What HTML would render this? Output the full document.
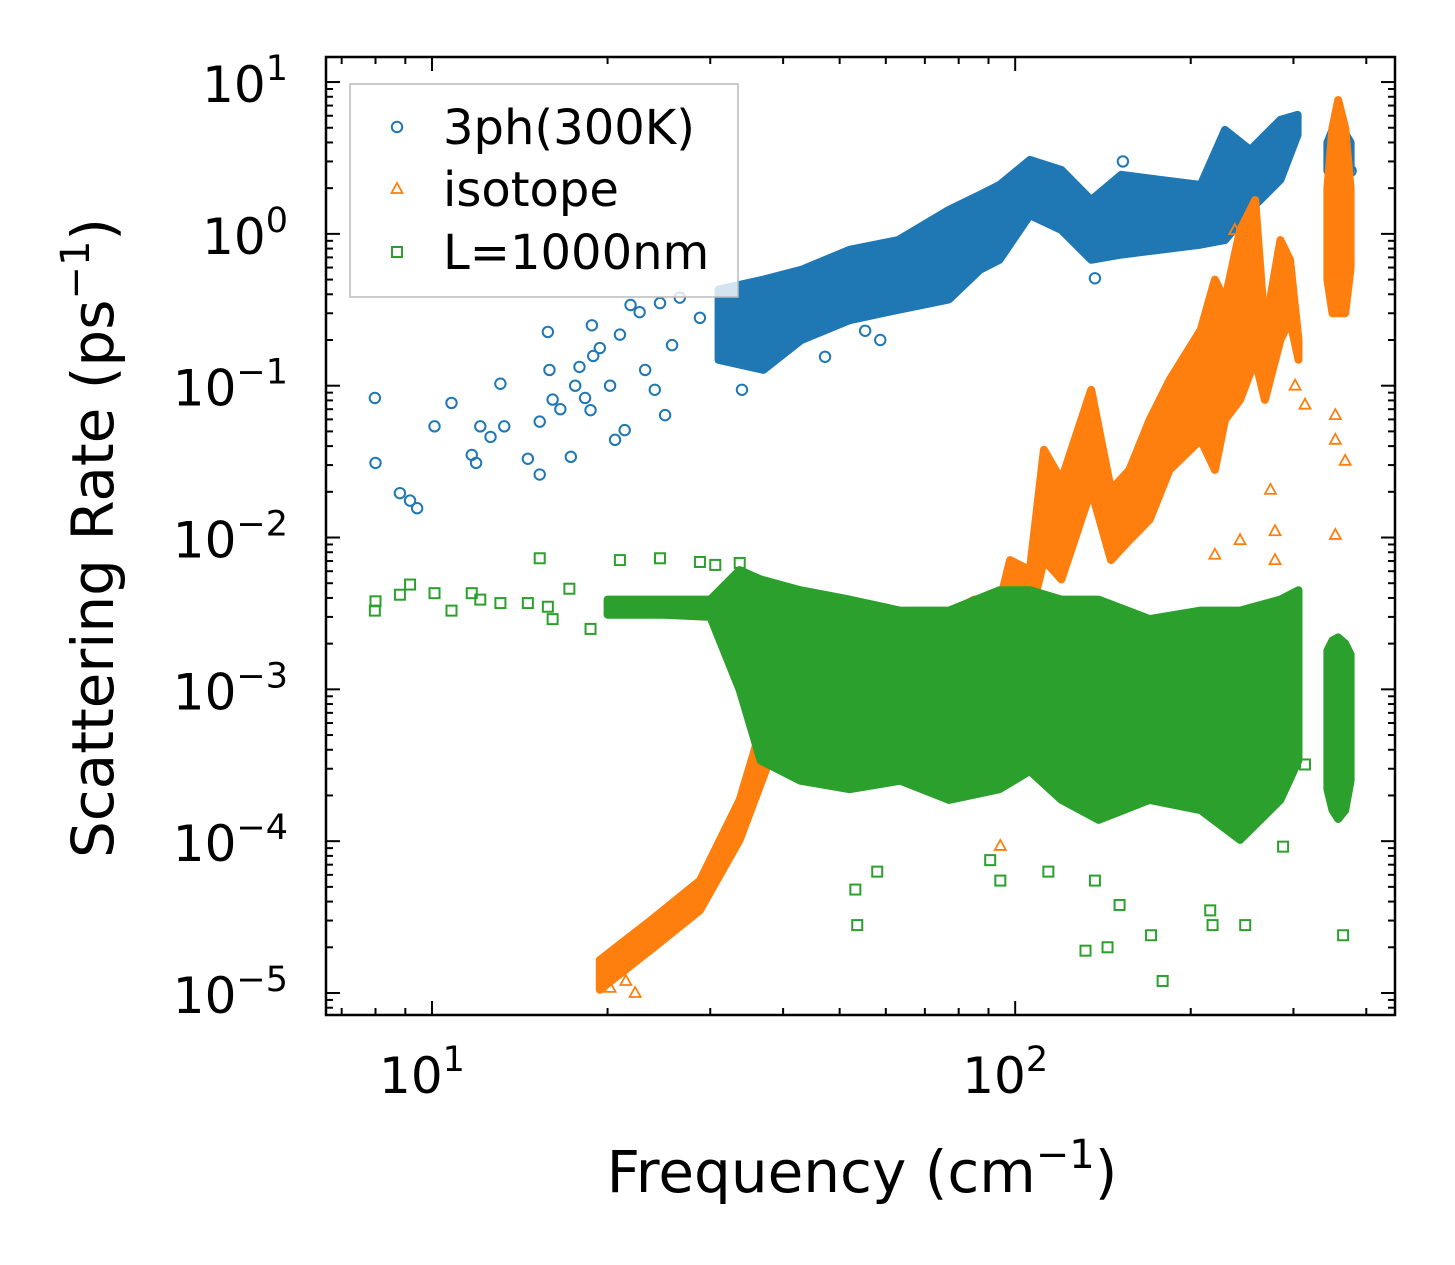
<!DOCTYPE html>
<html><head><meta charset="utf-8">
<style>
html,body{margin:0;padding:0;background:#fff;}
svg{display:block;font-family:"DejaVu Sans","Liberation Sans",sans-serif;}
</style></head>
<body>
<svg id="chart" width="1455" height="1265" viewBox="0 0 1455 1265" xmlns="http://www.w3.org/2000/svg">
<rect x="0" y="0" width="1455" height="1265" fill="#fff"/>
<g id="marks"></g>
<g id="axes"></g>
</svg>
<script>
// ---- 3ph (300K) series ----
const blueBandFreq=[31,37,43,52,63,77,87,94,106,120,135,152,177,208,229,253,285,305];
const blueBandHi=[0.43,0.50,0.58,0.785,0.91,1.44,1.81,2.10,3.07,2.64,1.67,2.45,2.27,2.10,4.84,3.57,5.64,6.08];
const blueBandLo=[0.148,0.127,0.20,0.27,0.316,0.37,0.58,0.675,1.33,1.06,0.675,0.73,0.785,0.85,0.91,1.44,2.27,4.49];
const blueClusterFreq=[343,350,358,368,376];
const blueClusterHi=[4.0,4.84,4.5,4.6,4.0];
const blueClusterLo=[2.6,2.27,2.4,2.3,2.6];
const blueFreq=[7.98,8.0,8.81,9.17,9.43,10.1,10.8,11.7,11.9,12.1,12.6,13.1,13.3,14.6,15.3,15.3,15.8,15.9,16.1,16.6,17.3,17.6,17.9,18.3,18.7,18.8,18.9,19.4,20.2,20.6,21.0,21.4,21.9,22.7,23.2,24.1,24.6,25.1,25.8,26.6,28.8,34.0,47.2,55.3,58.7,137,153,376];
const blueVal=[0.083,0.031,0.0196,0.0175,0.0156,0.054,0.077,0.035,0.031,0.054,0.046,0.103,0.054,0.033,0.026,0.058,0.226,0.127,0.081,0.07,0.034,0.10,0.133,0.083,0.069,0.25,0.157,0.177,0.10,0.044,0.217,0.051,0.34,0.305,0.127,0.094,0.35,0.064,0.185,0.38,0.28,0.094,0.155,0.23,0.2,0.51,3.0,2.6];
// ---- isotope series ----
const orangeBandFreq=[19.4,23.7,28.8,33.7,37.9,44,55,70,85,94.3,98,106,112,120,135,146,157,170,184,208,220,229,243,258,268,285,296,306];
const orangeBandHi=[1.65e-5,3.0e-5,5.5e-5,1.87e-4,8.5e-4,1.2e-3,1.6e-3,2.6e-3,3.9e-3,3.9e-3,7.1e-3,6.1e-3,0.0378,0.0239,0.094,0.0206,0.0279,0.0595,0.109,0.233,0.50,0.367,1.06,1.67,0.233,0.91,0.675,0.20];
const orangeBandLo=[1.05e-5,1.92e-5,3.5e-5,1.02e-4,3.4e-4,4.0e-4,5.0e-4,7.0e-4,8.5e-4,8.5e-4,2.1e-3,2.9e-3,7.1e-3,5.3e-3,0.0206,7.1e-3,9.6e-3,0.0131,0.0279,0.044,0.0279,0.0595,0.0806,0.148,0.0806,0.20,0.271,0.148];
const orangeSpikeFreq=[343,350,358,368,376];
const orangeSpikeHi=[2.0,5.0,7.6,5.0,2.0];
const orangeSpikeLo=[0.5,0.3,0.3,0.3,0.6];
const orangeFreq=[302,314,354,354,368,354,274,243,220,279,279,94.3,140,238,20.2,21.5,22.3];
const orangeVal=[0.1,0.075,0.064,0.044,0.032,0.0104,0.0206,9.6e-3,7.7e-3,0.011,7.1e-3,9.3e-5,0.0197,1.06,1.08e-5,1.2e-5,1.0e-5];
// ---- L=1000nm series ----
const greenBandFreq=[20,25,30,33.7,36.6,42.8,52,63.5,77,94,106,120,139,170,208,243,285,306];
const greenBandHi=[3.9e-3,3.9e-3,3.9e-3,6.1e-3,5.3e-3,4.5e-3,3.9e-3,3.3e-3,3.3e-3,4.5e-3,4.5e-3,3.9e-3,3.9e-3,2.9e-3,3.3e-3,3.3e-3,3.9e-3,4.5e-3];
const greenBandLo=[3.1e-3,3.1e-3,3.0e-3,9.9e-4,3.4e-4,2.5e-4,2.2e-4,2.5e-4,1.87e-4,2.2e-4,2.9e-4,1.87e-4,1.38e-4,1.87e-4,1.6e-4,1.02e-4,1.87e-4,3.4e-4];
const greenClusterFreq=[343,350,358,368,376];
const greenClusterHi=[1.8e-3,2.1e-3,2.2e-3,2.0e-3,1.7e-3];
const greenClusterLo=[2.2e-4,1.6e-4,1.4e-4,1.6e-4,2.5e-4];
const greenFreq=[7.98,8.0,8.81,9.17,10.1,10.8,11.7,12.1,13.1,14.6,15.3,15.8,16.1,17.2,18.7,21.0,24.6,28.8,30.6,33.7,53.2,53.6,58,90.6,94.3,114,132,144,171,179,151,216,218,248,288,365,314,137];
const greenVal=[3.3e-3,3.8e-3,4.2e-3,4.9e-3,4.3e-3,3.3e-3,4.3e-3,3.9e-3,3.7e-3,3.7e-3,7.3e-3,3.5e-3,2.9e-3,4.6e-3,2.5e-3,7.1e-3,7.3e-3,6.9e-3,6.6e-3,6.8e-3,4.8e-5,2.8e-5,6.3e-5,7.5e-5,5.5e-5,6.3e-5,1.9e-5,2.0e-5,2.4e-5,1.2e-5,3.8e-5,3.5e-5,2.8e-5,2.8e-5,9.2e-5,2.4e-5,3.2e-4,5.5e-5];
// ---- ticks ----
const xTickVals=[10,100];
const xTickExp=["1","2"];
const yTickVals=[10,1,0.1,0.01,0.001,1e-4,1e-5];
const yTickExp=["1","0","\u22121","\u22122","\u22123","\u22124","\u22125"];

const NS="http://www.w3.org/2000/svg";
const L=326,R=1395,T=57,B=1015;
const xMinL=Math.log10(6.58),xMaxL=Math.log10(448);
const yMinL=-5.145,yMaxL=1.165;
function X(f){return L+(Math.log10(f)-xMinL)/(xMaxL-xMinL)*(R-L);}
function Y(v){return B-(Math.log10(v)-yMinL)/(yMaxL-yMinL)*(B-T);}
const marks=document.getElementById('marks');
const axes=document.getElementById('axes');
function mk(tag,attrs,parent){const e=document.createElementNS(NS,tag);for(const k in attrs)e.setAttribute(k,attrs[k]);(parent||marks).appendChild(e);return e;}
const C={b:'#1f77b4',o:'#ff7f0e',g:'#2ca02c'};

function band(fr,hi,lo,col,name){
  let pts=[];
  for(let i=0;i<fr.length;i++)pts.push(X(fr[i]).toFixed(1)+','+Y(hi[i]).toFixed(1));
  for(let i=fr.length-1;i>=0;i--)pts.push(X(fr[i]).toFixed(1)+','+Y(lo[i]).toFixed(1));
  const p=mk('polygon',{points:pts.join(' '),fill:col,stroke:col,'stroke-width':8,'stroke-linejoin':'round'});
  
  
}
function circle(f,v,parent){
  const c=mk('circle',{cx:X(f),cy:Y(v),r:5.2,fill:'none',stroke:C.b,'stroke-width':2},parent);
  
  
}
function tri(f,v,parent){
  const x=X(f),y=Y(v);
  const t=mk('polygon',{points:`${x},${y-6} ${x-5.5},${y+4} ${x+5.5},${y+4}`,fill:'none',stroke:C.o,'stroke-width':1.8},parent);
  
  
}
function sq(f,v,parent){
  const s=mk('rect',{x:X(f)-5,y:Y(v)-5,width:10,height:10,fill:'none',stroke:C.g,'stroke-width':2},parent);
  
  
}
// blue
band(blueBandFreq,blueBandHi,blueBandLo,C.b,'3ph-dense-band');
band(blueClusterFreq,blueClusterHi,blueClusterLo,C.b,'3ph-high-cluster');
for(let i=0;i<blueFreq.length;i++)circle(blueFreq[i],blueVal[i]);
// orange
band(orangeBandFreq,orangeBandHi,orangeBandLo,C.o,'isotope-dense-band');
band(orangeSpikeFreq,orangeSpikeHi,orangeSpikeLo,C.o,'isotope-high-spike');
for(let i=0;i<orangeFreq.length;i++)tri(orangeFreq[i],orangeVal[i]);
// green
band(greenBandFreq,greenBandHi,greenBandLo,C.g,'boundary-dense-band');
band(greenClusterFreq,greenClusterHi,greenClusterLo,C.g,'boundary-high-cluster');
for(let i=0;i<greenFreq.length;i++)sq(greenFreq[i],greenVal[i]);

// frame
const fr=mk('rect',{x:L,y:T,width:R-L,height:B-T,fill:'none',stroke:'#000','stroke-width':2.5},axes);


// x ticks
for(let d=0;d<=2;d++){for(let m=1;m<=9;m++){const f=m*Math.pow(10,d);if(f<6.58||f>448)continue;
  const x=X(f);const len=m===1?14:7;
  mk('line',{x1:x,y1:B,x2:x,y2:B-len,stroke:'#000','stroke-width':2},axes);
  mk('line',{x1:x,y1:T,x2:x,y2:T+len,stroke:'#000','stroke-width':2},axes);}}
for(let i=0;i<xTickVals.length;i++){
  const t=mk('text',{x:X(xTickVals[i])-10,y:1093,'font-size':50,'text-anchor':'middle',fill:'#000'},axes);
  
  
  t.innerHTML='10<tspan dy="-22" font-size="35">'+xTickExp[i]+'</tspan>';
}
// y ticks
for(let d=-6;d<=1;d++){for(let m=1;m<=9;m++){const v=m*Math.pow(10,d);const lv=Math.log10(v);if(lv<yMinL||lv>yMaxL)continue;
  const y=Y(v);const len=m===1?14:7;
  mk('line',{x1:L,y1:y,x2:L+len,y2:y,stroke:'#000','stroke-width':2},axes);
  mk('line',{x1:R,y1:y,x2:R-len,y2:y,stroke:'#000','stroke-width':2},axes);}}
for(let i=0;i<yTickVals.length;i++){
  const t=mk('text',{x:288,y:Y(yTickVals[i])+20,'font-size':50,'text-anchor':'end',fill:'#000'},axes);
  
  
  t.innerHTML='10<tspan dy="-22" font-size="35">'+yTickExp[i]+'</tspan>';
}
// axis titles
const xt=mk('text',{x:862,y:1192,'font-size':58,'text-anchor':'middle',fill:'#000'},axes);


xt.innerHTML='Frequency (cm<tspan dy="-24" font-size="40">\u22121</tspan><tspan dy="24">)</tspan>';
const yt=mk('text',{x:0,y:0,'font-size':58,'text-anchor':'middle',fill:'#000',transform:'translate(113,538) rotate(-90)'},axes);


yt.innerHTML='Scattering Rate (ps<tspan dy="-24" font-size="40">\u22121</tspan><tspan dy="24">)</tspan>';
// legend
const lg=mk('g',{},axes);


const lb=mk('rect',{x:350,y:84,width:388,height:213,fill:'#fff','fill-opacity':0.8,stroke:'#bbb','stroke-width':1.5},lg);


const legendLabels=['3ph(300K)','isotope','L=1000nm'];
const legendY=[127,189,252];
for(let i=0;i<3;i++){
  const y=legendY[i];
  const g=mk('g',{},lg);
  
  
  if(i===0)mk('circle',{cx:397,cy:y,r:5.2,fill:'none',stroke:C.b,'stroke-width':2},g);
  if(i===1)mk('polygon',{points:`397,${y-6} 391.5,${y+4} 402.5,${y+4}`,fill:'none',stroke:C.o,'stroke-width':1.8},g);
  if(i===2)mk('rect',{x:392,y:y-5,width:10,height:10,fill:'none',stroke:C.g,'stroke-width':2},g);
  const t=mk('text',{x:443,y:y+17,'font-size':48,fill:'#000'},g);
  t.textContent=legendLabels[i];
}
</script>
</body></html>
